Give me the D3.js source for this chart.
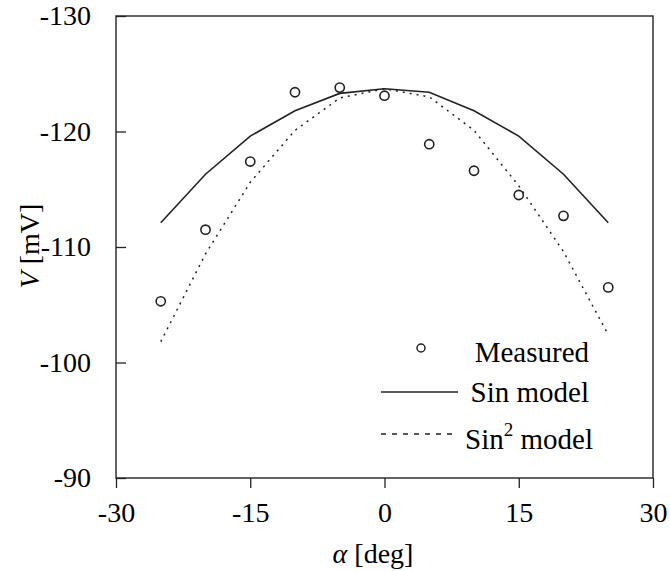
<!DOCTYPE html>
<html>
<head>
<script src="https://cdn.jsdelivr.net/npm/d3@7"></script>
</head>
<body style="margin:0">
<script>
// data
var alpha = [-25, -20, -15, -10, -5, 0, 5, 10, 15, 20, 25]
var measured = [-105.3, -111.5, -117.4, -123.4, -123.8, -123.1, -118.9, -116.6, -114.5, -112.7, -106.5]
var sinModel = [-112.1, -116.3, -119.6, -121.8, -123.3, -123.7, -123.4, -121.8, -119.6, -116.3, -112.1]
var sin2Model = [-101.8, -109.4, -115.6, -120.1, -122.9, -123.7, -123.0, -120.1, -115.3, -109.6, -102.4]
var xTicks = [-30, -15, 0, 15, 30]
var yTicks = [-130, -120, -110, -100, -90]

const width = 670
const height = 571

var svg = d3.select("body").append("svg")
    .attr("width", width)
    .attr("height", height)
    .attr("font-family", "Liberation Serif")

var x = d3.scaleLinear().domain([-30, 30]).range([116, 653])
var y = d3.scaleLinear().domain([-130, -90]).range([16, 478])

var ink = "#222"

//Frame
svg.append("rect")
    .attr("x", x(-30)).attr("y", y(-130))
    .attr("width", x(30) - x(-30)).attr("height", y(-90) - y(-130))
    .attr("fill", "none").attr("stroke", ink).attr("stroke-width", 1.4)

//Axes (plain hyphen for the minus, like the original)
var xAxis = svg.append("g")
    .attr("transform", "translate(0," + y(-90) + ")")
    .call(d3.axisBottom(x).tickValues(xTicks).tickSize(10).tickPadding(14)
        .tickFormat((d) => String(d)))
xAxis.attr("font-family", "Liberation Serif").attr("font-size", 28)
xAxis.select(".domain").remove()
xAxis.selectAll("line").attr("stroke", ink).attr("stroke-width", 1.3)

var yAxis = svg.append("g")
    .attr("transform", "translate(" + x(-30) + ",0)")
    .call(d3.axisLeft(y).tickValues(yTicks).tickSize(-10).tickPadding(25)
        .tickFormat((d) => String(d)))
yAxis.attr("font-family", "Liberation Serif").attr("font-size", 28)
yAxis.select(".domain").remove()
yAxis.selectAll("line").attr("stroke", ink).attr("stroke-width", 1.3)

//Axis titles
var xt = svg.append("text")
    .attr("x", 373).attr("y", 563)
    .attr("text-anchor", "middle")
    .attr("font-size", 28)
xt.append("tspan").attr("font-style", "italic").text("\u03b1")
xt.append("tspan").text("  [deg]")

var yt = svg.append("text")
    .attr("transform", "translate(39,246) rotate(-90)")
    .attr("text-anchor", "middle")
    .attr("font-size", 28)
yt.append("tspan").attr("font-style", "italic").text("V")
yt.append("tspan").text(" [mV]")

//Model lines
var rows = alpha.map((a, i) => ({a: a, m: measured[i], s: sinModel[i], s2: sin2Model[i]}))

svg.append("path")
    .datum(rows)
    .attr("fill", "none").attr("stroke", ink).attr("stroke-width", 1.6)
    .attr("d", d3.line().x((d) => x(d.a)).y((d) => y(d.s)))

svg.append("path")
    .datum(rows)
    .attr("fill", "none").attr("stroke", ink).attr("stroke-width", 1.5)
    .attr("stroke-dasharray", "2,5")
    .attr("d", d3.line().x((d) => x(d.a)).y((d) => y(d.s2)))

//Measured points
svg.append("g")
    .selectAll("circle")
    .data(rows)
    .enter()
    .append("circle")
        .attr("cx", (d) => x(d.a))
        .attr("cy", (d) => y(d.m))
        .attr("r", 4.6)
        .attr("fill", "none")
        .attr("stroke", ink)
        .attr("stroke-width", 1.6)

//Legend
var lg = svg.append("g").attr("font-size", 29)
lg.append("circle").attr("cx", 421).attr("cy", 348).attr("r", 4)
    .attr("fill", "none").attr("stroke", ink).attr("stroke-width", 1.5)
lg.append("text").attr("x", 589).attr("y", 362).attr("text-anchor", "end")
    .text("Measured")

lg.append("line").attr("x1", 381).attr("x2", 458).attr("y1", 392).attr("y2", 392)
    .attr("stroke", ink).attr("stroke-width", 1.6)
lg.append("text").attr("x", 589).attr("y", 402).attr("text-anchor", "end")
    .text("Sin model")

lg.append("line").attr("x1", 381).attr("x2", 458).attr("y1", 434).attr("y2", 434)
    .attr("stroke", ink).attr("stroke-width", 1.5).attr("stroke-dasharray", "5,6")
var s2 = lg.append("text").attr("x", 593).attr("y", 449).attr("text-anchor", "end")
s2.append("tspan").text("Sin")
s2.append("tspan").attr("font-size", 19).attr("dy", -13).text("2")
s2.append("tspan").attr("dy", 13).text(" model")
</script>
</body>
</html>
